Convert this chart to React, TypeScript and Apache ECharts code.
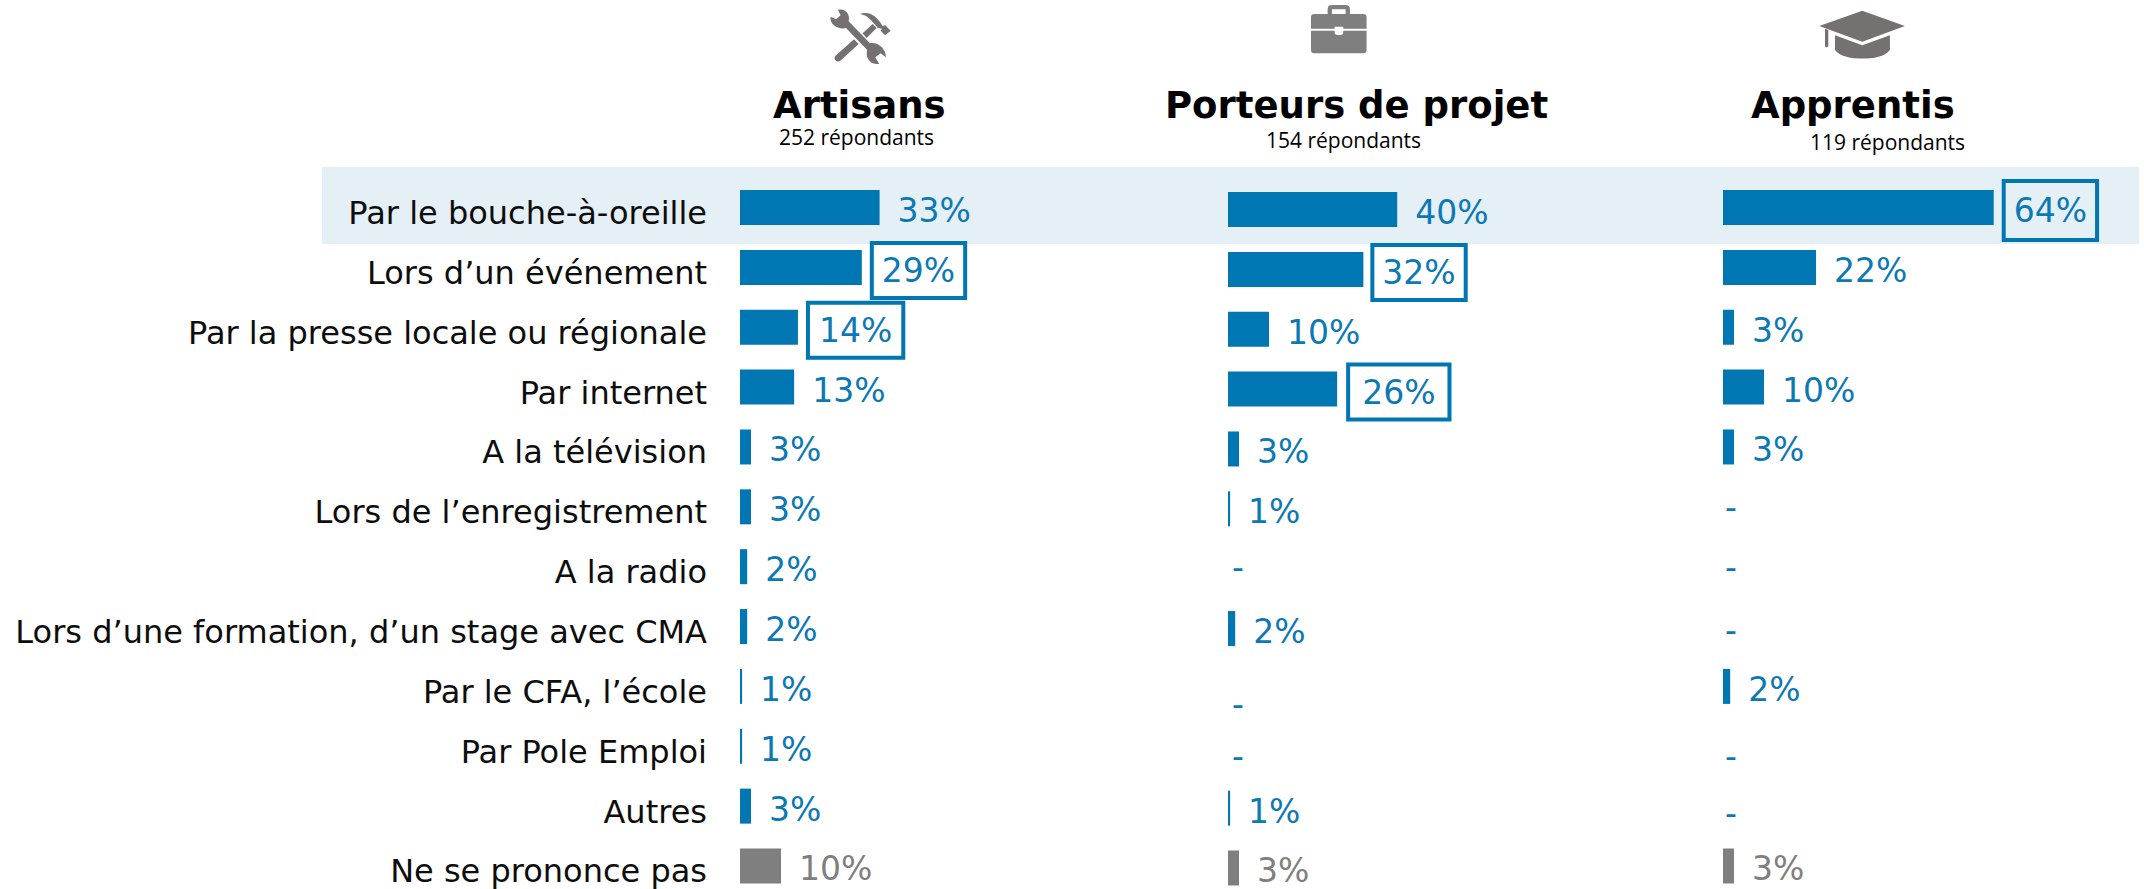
import React, { useEffect, useRef } from "react";
import * as echarts from "echarts";

const categories = [
  "Par le bouche-à-oreille",
  "Lors d’un événement",
  "Par la presse locale ou régionale",
  "Par internet",
  "A la télévision",
  "Lors de l’enregistrement",
  "A la radio",
  "Lors d’une formation, d’un stage avec CMA",
  "Par le CFA, l’école",
  "Par Pole Emploi",
  "Autres",
  "Ne se prononce pas",
];
const artisans = [33, 28.8, 13.7, 12.8, 2.6, 2.6, 1.7, 1.7, 0.5, 0.5, 2.6, 9.7];
const porteurs = [40, 32, 9.7, 25.8, 2.6, 0.5, 0, 1.7, 0, 0, 0.5, 2.6];
const apprentis = [64, 22, 2.6, 9.7, 2.6, 0, 0, 0, 1.7, 0, 0, 2.6];

const seriesNames = ["Artisans", "Porteurs de projet", "Apprentis"];
const respondents = ["252 répondants", "154 répondants", "119 répondants"];

// Layout and styling tables
const BLUE = "#0076B2";
const BLUE_TEXT = "#0C78B4";
const GREY = "#7F7F7F";
const ICON = "#767171";
const FONT = "'DejaVu Sans'";
const LABEL_SIZE = 33;
const CATEGORY_SIZE = 32;
const PX_PER_PERCENT = 4.23;
const ROW = 59.86;

type Box = { padding: number[]; gap: number };
const columns = [
  {
    values: artisans, left: 740, top: 177.6, dashGap: 4,
    boxed: { 1: { padding: [11, 10], gap: 10 }, 2: { padding: [11, 11], gap: 10 } } as Record<number, Box>,
    dy: {} as Record<number, number>,
  },
  {
    values: porteurs, left: 1228, top: 179.6, dashGap: 4,
    boxed: { 1: { padding: [11, 10], gap: 9 }, 3: { padding: [11, 14], gap: 11 } } as Record<number, Box>,
    dy: { 6: -4, 8: 13, 9: 5 } as Record<number, number>,
  },
  {
    values: apprentis, left: 1723, top: 177.6, dashGap: 2,
    boxed: { 0: { padding: [13, 10], gap: 10 } } as Record<number, Box>,
    dy: { 5: -2, 6: -2, 7: 1, 9: 7, 10: 4 } as Record<number, number>,
  },
];

const TOOLS =
  "M62 50 L78 58 L92 46 L84 30 C104 24 122 42 116 64 L180 130 C204 126 228 146 228 172 L212 160 L196 172 L208 192 C182 196 164 172 172 150 L108 84 C86 90 58 74 62 50 Z " +
  "M76 168 L132 118 L146 132 L92 182 C82 190 68 178 76 168 Z M158 100 L188 72 L200 84 L170 114 Z " +
  "M150 42 C175 32 200 45 218 78 L226 76 L242 92 L226 106 L212 92 L216 86 L204 84 L188 66 C175 50 165 45 150 42 Z";
const CASE =
  "M113 42 V28 Q113 15 126 15 H167 Q180 15 180 28 V42 H167 V28 H126 V42 Z " +
  "M63 52 Q63 42 73 42 H220 Q230 42 230 52 V86 H160 V80 H134 V86 H63 Z " +
  "M63 92 H134 V96 Q134 105 143 105 H151 Q160 105 160 96 V92 H230 V150 Q230 160 220 160 H73 Q63 160 63 150 Z";
const CAP =
  "M157 32 L285 78 L157 125 L28 78 Z M45 86 L55 90 V138 Q50 146 45 138 Z " +
  "M75 106 L157 136 L240 106 V150 C225 170 190 176 157 176 C125 176 90 170 75 150 Z";

echarts.graphic.registerShape("iconTools", echarts.graphic.extendPath(TOOLS, {}));
echarts.graphic.registerShape("iconCase", echarts.graphic.extendPath(CASE, {}));
echarts.graphic.registerShape("iconCap", echarts.graphic.extendPath(CAP, {}));

function itemFor(value: number, i: number, col: (typeof columns)[number]) {
  const last = i === categories.length - 1;
  const color = last ? GREY : BLUE_TEXT;
  const text = value === 0 ? "-" : `${Math.round(value)}%`;
  const label: any = {
    show: true,
    position: "right",
    formatter: text,
    color,
    fontFamily: FONT,
    fontSize: LABEL_SIZE,
    distance: value === 0 ? col.dashGap : 18,
    offset: [0, 3 + (col.dy[i] || 0)],
  };
  const box = col.boxed[i];
  if (box) {
    label.padding = box.padding;
    label.borderColor = BLUE;
    label.borderWidth = 4;
    label.distance = box.gap;
  }
  return { value, label, itemStyle: { color: last ? GREY : BLUE } };
}

function buildOption() {
  const headerText = (text: string, x: number, y: number) => ({
    type: "text",
    x,
    y,
    style: { text, fill: "#000", font: `bold 37px ${FONT}`, textVerticalAlign: "middle" },
  });
  const subText = (text: string, x: number, y: number) => ({
    type: "text",
    x,
    y,
    style: { text, fill: "#000", font: "21px 'Open Sans'", textVerticalAlign: "middle" },
  });
  return {
    animation: false,
    backgroundColor: "#fff",
    graphic: [
      { type: "rect", z: -1, shape: { x: 322, y: 167, width: 1817, height: 77 }, style: { fill: "#E4EFF6" } },
      { type: "iconTools", x: 810, y: 0, scaleX: 1 / 3, scaleY: 1 / 3, style: { fill: ICON } },
      { type: "iconCase", x: 1290, y: 0, scaleX: 1 / 3, scaleY: 1 / 3, style: { fill: GREY } },
      { type: "iconCap", x: 1810, y: 0, scaleX: 1 / 3, scaleY: 1 / 3, style: { fill: ICON } },
      headerText(seriesNames[0], 773, 105),
      headerText(seriesNames[1], 1165, 105),
      headerText(seriesNames[2], 1751, 105),
      subText(respondents[0], 779, 137),
      subText(respondents[1], 1266, 140),
      subText(respondents[2], 1810, 142),
    ],
    grid: columns.map((c) => ({
      left: c.left,
      top: c.top,
      width: 100 * PX_PER_PERCENT,
      height: ROW * categories.length,
      containLabel: false,
      outerBoundsMode: "none",
    })),
    xAxis: columns.map((_, i) => ({
      type: "value",
      gridIndex: i,
      min: 0,
      max: 100,
      show: false,
    })),
    yAxis: columns.map((_, i) => ({
      type: "category",
      gridIndex: i,
      inverse: true,
      data: categories,
      axisLine: { show: false },
      axisTick: { show: false },
      splitLine: { show: false },
      axisLabel: i === 0
        ? {
            show: true,
            interval: 0,
            margin: 33,
            formatter: (v: string) => `{a|${v}}`,
            rich: {
              a: { color: "#0D0D0D", fontFamily: FONT, fontSize: CATEGORY_SIZE, padding: [11, 0, 0, 0] },
            },
          }
        : { show: false },
    })),
    series: columns.map((c, i) => ({
      type: "bar",
      name: seriesNames[i],
      xAxisIndex: i,
      yAxisIndex: i,
      barWidth: 35,
      data: c.values.map((v, k) => itemFor(v, k, c)),
    })),
  };
}

export default function App() {
  const ref = useRef<HTMLDivElement>(null);
  useEffect(() => {
    const chart = echarts.init(ref.current!, undefined, { renderer: "svg" });
    chart.setOption(buildOption() as any);
    return () => chart.dispose();
  }, []);
  return <div ref={ref} style={{ position: "absolute", left: 0, top: 0, width: 2144, height: 889 }} />;
}
